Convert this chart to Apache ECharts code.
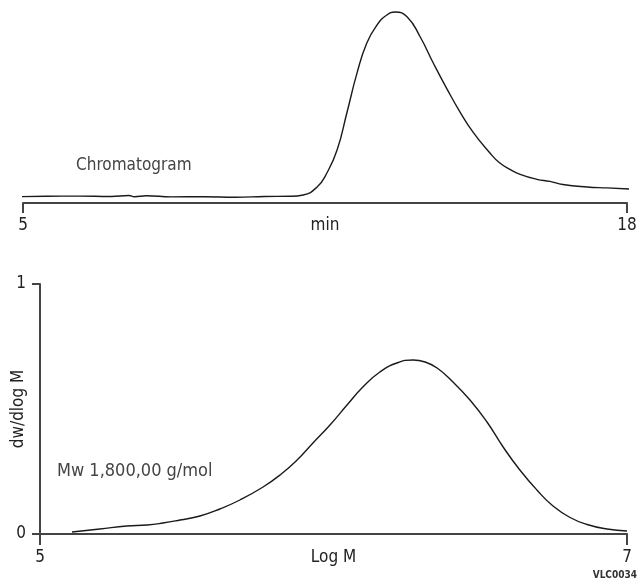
<!DOCTYPE html>
<html>
<head>
<meta charset="utf-8">
<script src="https://cdn.jsdelivr.net/npm/echarts@6/dist/echarts.min.js"></script>
<style>html,body{margin:0;padding:0;background:#fff}#c{width:640px;height:584px}</style>
</head>
<body>
<div id="c"></div>
<script>
// Chromatogram (top): time in min, relative signal
var chromTime = [4.87, 5.5, 6.2, 6.9, 7.28, 7.4, 7.65, 8.2, 8.9, 9.58, 10.2, 10.75, 11.03, 11.33, 11.54, 11.76, 11.97, 12.19, 12.40, 12.62, 12.83, 13.01, 13.27, 13.55, 13.83, 14.13, 14.41, 14.69, 15.05, 15.25, 15.48, 15.70, 16.06, 16.34, 16.62, 17.14, 17.57, 18.05];
var chromSignal = [0.033, 0.035, 0.036, 0.034, 0.039, 0.033, 0.038, 0.032, 0.033, 0.030, 0.034, 0.035, 0.042, 0.084, 0.157, 0.277, 0.471, 0.681, 0.838, 0.932, 0.984, 1.000, 0.974, 0.869, 0.733, 0.595, 0.475, 0.370, 0.262, 0.212, 0.176, 0.150, 0.124, 0.113, 0.097, 0.084, 0.079, 0.073];
// Molecular weight distribution (bottom)
var logM = [5.109, 5.204, 5.296, 5.365, 5.419, 5.477, 5.545, 5.613, 5.681, 5.760, 5.818, 5.876, 5.930, 5.988, 6.046, 6.100, 6.158, 6.216, 6.271, 6.312, 6.353, 6.407, 6.465, 6.523, 6.578, 6.635, 6.693, 6.748, 6.806, 6.864, 6.932, 7.000];
var dwdlogM = [0.008, 0.020, 0.032, 0.036, 0.044, 0.056, 0.072, 0.100, 0.136, 0.188, 0.236, 0.296, 0.364, 0.436, 0.516, 0.588, 0.648, 0.684, 0.696, 0.688, 0.664, 0.608, 0.536, 0.448, 0.348, 0.256, 0.176, 0.112, 0.066, 0.038, 0.020, 0.012];
var topAxisRange = [5, 18];
var bottomXRange = [5, 7];
var bottomYRange = [0, 1];

var FONT = "'Liberation Sans Narrow', 'DejaVu Sans Condensed', 'Roboto Condensed', sans-serif";
var AX = '#444';
function zip(a, b) { return a.map(function (v, i) { return [v, b[i]]; }); }

var chart = echarts.init(document.getElementById('c'), null, {renderer: 'canvas'});
chart.setOption({
  animation: false,
  grid: [
    {left: 23, right: 13, top: 12, bottom: 381},
    {left: 40, right: 13, top: 284, bottom: 50}
  ],
  xAxis: [
    {
      gridIndex: 0, type: 'value', min: topAxisRange[0], max: topAxisRange[1], interval: 13,
      name: 'min', nameLocation: 'middle', nameGap: 14, nameMoveOverlap: false,
      nameTextStyle: {fontFamily: FONT, fontSize: 17, color: '#222', verticalAlign: 'top'},
      axisLine: {show: true, lineStyle: {color: AX, width: 2}},
      axisTick: {show: true, length: 10, lineStyle: {color: AX, width: 2}},
      axisLabel: {margin: 14, fontFamily: FONT, fontSize: 17, color: '#222'},
      splitLine: {show: false}
    },
    {
      gridIndex: 1, type: 'value', min: bottomXRange[0], max: bottomXRange[1], interval: 2,
      name: 'Log M', nameLocation: 'middle', nameGap: 15, nameMoveOverlap: false,
      nameTextStyle: {fontFamily: FONT, fontSize: 17, color: '#222', verticalAlign: 'top'},
      axisLine: {show: true, lineStyle: {color: AX, width: 2}},
      axisTick: {show: true, length: 11, lineStyle: {color: AX, width: 2}},
      axisLabel: {margin: 15, fontFamily: FONT, fontSize: 17, color: '#222'},
      splitLine: {show: false}
    }
  ],
  yAxis: [
    {gridIndex: 0, type: 'value', min: 0, max: 1, show: false},
    {
      gridIndex: 1, type: 'value', min: bottomYRange[0], max: bottomYRange[1], interval: 1,
      name: 'dw/dlog M', nameLocation: 'middle', nameGap: 13, nameRotate: 90, nameMoveOverlap: false,
      nameTextStyle: {fontFamily: FONT, fontSize: 17, color: '#222'},
      axisLine: {show: true, lineStyle: {color: AX, width: 2}},
      axisTick: {show: true, length: 8, lineStyle: {color: AX, width: 2}},
      axisLabel: {margin: 14, fontFamily: FONT, fontSize: 17, color: '#222'},
      splitLine: {show: false}
    }
  ],
  series: [
    {
      type: 'line', xAxisIndex: 0, yAxisIndex: 0, data: zip(chromTime, chromSignal),
      smooth: 0.5, showSymbol: false, clip: false,
      lineStyle: {color: '#1a1a1a', width: 1.4}
    },
    {
      type: 'line', xAxisIndex: 1, yAxisIndex: 1, data: zip(logM, dwdlogM),
      smooth: 0.5, showSymbol: false, clip: false,
      lineStyle: {color: '#1a1a1a', width: 1.4}
    }
  ],
  graphic: [
    {type: 'text', left: 76, top: 157, style: {text: 'Chromatogram', font: '17px ' + FONT, fill: '#444'}},
    {type: 'text', left: 57, top: 462, style: {text: 'Mw 1,800,00 g/mol', font: '18px ' + FONT, fill: '#444'}},
    {type: 'text', right: 3, top: 570, style: {text: 'VLC0034', font: 'bold 10px ' + FONT, fill: '#333'}}
  ]
});
</script>
</body>
</html>
